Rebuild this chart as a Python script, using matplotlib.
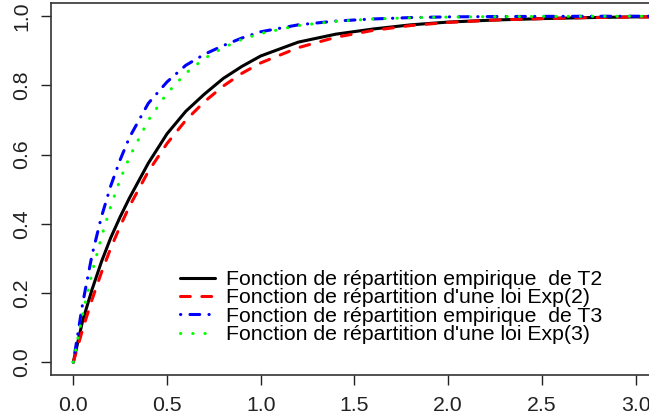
import numpy as np
import matplotlib.pyplot as plt

plt.rcParams['font.family'] = ['Liberation Sans', 'DejaVu Sans']

# values
x = [0, 0.05, 0.1, 0.15, 0.2, 0.25, 0.3, 0.4, 0.5, 0.6, 0.7, 0.8, 0.9, 1.0,
     1.2, 1.4, 1.6, 1.8, 2.0, 2.25, 2.5, 2.75, 3.0, 3.1]
emp_t2 = [0, .12, .21, .29, .36, .42, .475, .575, .66, .725, .775, .82, .855, .885,
          .925, .948, .963, .975, .983, .989, .993, .996, .998, .998]
exp_2 = [0, .095, .181, .259, .330, .393, .451, .551, .632, .699, .753, .798, .835, .865,
         .909, .939, .959, .973, .982, .989, .993, .996, .9975, .998]
emp_t3 = [0, .17, .31, .42, .51, .585, .65, .748, .81, .858, .89, .915, .937, .955,
          .975, .986, .992, .996, .998, .999, .9995, .9998, 1.0, 1.0]
exp_3 = [0, .139, .259, .362, .451, .528, .593, .699, .777, .835, .878, .909, .933, .950,
         .973, .985, .992, .9955, .9975, .9988, .9994, .9997, .9999, .9999]

labels = ["Fonction de répartition empirique  de T2",
          "Fonction de répartition d'une loi Exp(2)",
          "Fonction de répartition empirique  de T3",
          "Fonction de répartition d'une loi Exp(3)"]

W, H = 649, 419
fig = plt.figure(figsize=(W / 100, H / 100), dpi=100)
ax = fig.add_axes([51 / W, 44 / H, (W - 51) / W, (375 - 2.7) / H])

lw = 2.2
fs = 15.3
ax.plot(x, emp_t2, color='black', lw=lw, solid_capstyle='round', label=labels[0])
ax.plot(x, exp_2, color='red', lw=lw, dashes=(3.2, 3.8), dash_capstyle='round', label=labels[1])
ax.plot(x, emp_t3, color='blue', lw=lw, dashes=(0.1, 3, 3.2, 3), dash_capstyle='round', label=labels[2])
ax.plot(x, exp_3, color='#00ff00', lw=lw, dashes=(0.1, 3.9), dash_capstyle='round', label=labels[3])

ax.set_xlim(-0.119, 3.072)
ax.set_ylim(-0.037, 1.039)
ax.set_xticks([0, 0.5, 1.0, 1.5, 2.0, 2.5, 3.0])
ax.set_xticklabels(['0.0', '0.5', '1.0', '1.5', '2.0', '2.5', '3.0'])
ax.set_yticks([0, 0.2, 0.4, 0.6, 0.8, 1.0])
ax.set_yticklabels(['0.0', '0.2', '0.4', '0.6', '0.8', '1.0'], rotation=90, va='center')
ax.tick_params(length=7, width=1, labelsize=fs, colors='#222222')
ax.tick_params(axis='x', pad=8)
ax.tick_params(axis='y', pad=7)
ax.spines['right'].set_visible(False)
for s in ['left', 'top', 'bottom']:
    ax.spines[s].set_linewidth(1.2)
    ax.spines[s].set_color('#333333')

ax.legend(loc='upper left', bbox_to_anchor=(180 / W, 1 - 270 / H),
          bbox_transform=fig.transFigure, frameon=False, fontsize=fs,
          borderpad=0, borderaxespad=0, handlelength=1.65, handletextpad=0.52,
          labelspacing=-0.03)

fig.savefig('out.png', dpi=100)
